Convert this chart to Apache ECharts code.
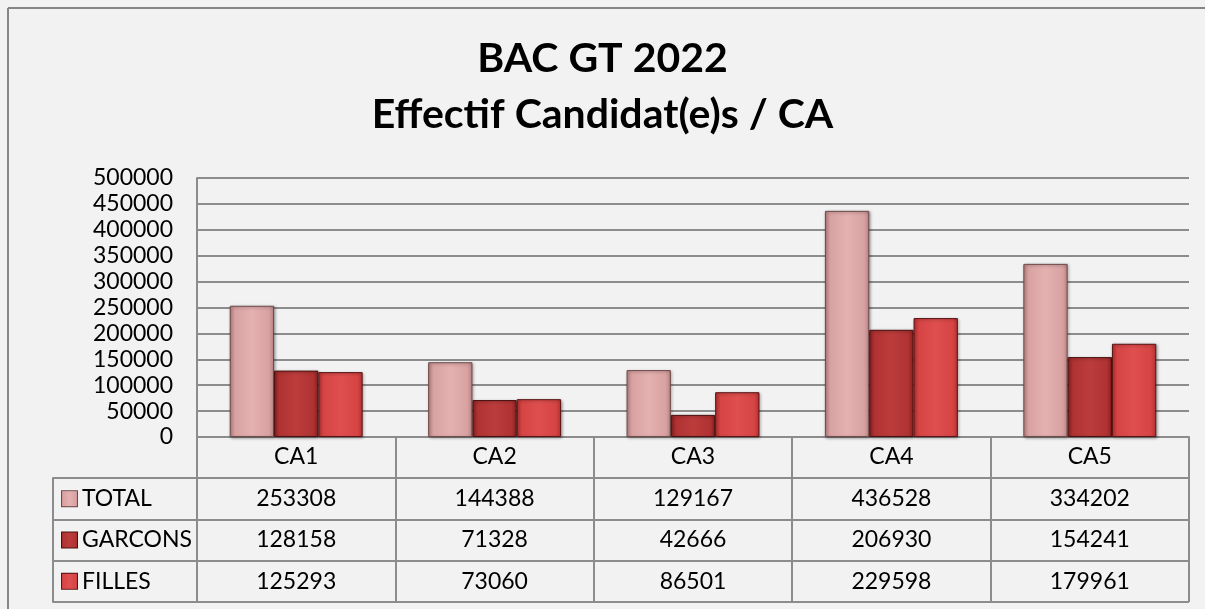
<!DOCTYPE html>
<html>
<head>
<meta charset="utf-8">
<script src="https://cdn.jsdelivr.net/npm/echarts@6/dist/echarts.min.js"></script>
<style>
html,body{margin:0;padding:0;background:#f2f2f2;overflow:hidden;}
#c{width:1205px;height:609px;}
</style>
</head>
<body>
<div id="c"></div>
<script>
const categories = ['CA1', 'CA2', 'CA3', 'CA4', 'CA5'];
const seriesNames = ['TOTAL', 'GARCONS', 'FILLES'];
const total = [253308, 144388, 129167, 436528, 334202];
const garcons = [128158, 71328, 42666, 206930, 154241];
const filles = [125293, 73060, 86501, 229598, 179961];
const yTicks = [0, 50000, 100000, 150000, 200000, 250000, 300000, 350000, 400000, 450000, 500000];

const values = [total, garcons, filles];
const FONT = 'Lato, "Open Sans", sans-serif';
const GRID = '#8c8c8c';
const FS = 23;

const palettes = [
  {edge: '#bd8585', mid: '#d9a2a2', light: '#e4b0b0', border: '#6e4a4a'},
  {edge: '#8c2222', mid: '#b03232', light: '#bc3c3c', border: '#4a1010'},
  {edge: '#b83232', mid: '#d64444', light: '#df4f4f', border: '#5a1414'}
];
function grad(p) {
  return new echarts.graphic.LinearGradient(0, 0, 1, 0, [
    {offset: 0, color: p.edge},
    {offset: 0.12, color: p.mid},
    {offset: 0.5, color: p.light},
    {offset: 0.88, color: p.mid},
    {offset: 1, color: p.edge}
  ]);
}

const barSeries = seriesNames.map((name, i) => ({
  name: name,
  type: 'bar',
  xAxisIndex: 0,
  yAxisIndex: 0,
  data: values[i],
  barGap: '0%',
  barCategoryGap: '33%',
  itemStyle: {
    color: grad(palettes[i]),
    borderColor: palettes[i].border,
    borderWidth: 1,
    shadowColor: 'rgba(0,0,0,0.35)',
    shadowBlur: 3,
    shadowOffsetX: 1,
    shadowOffsetY: 1
  }
}));

const tableData = [];
seriesNames.forEach((name, r) => {
  categories.forEach((c, ci) => {
    tableData.push([ci, r, values[r][ci]]);
  });
});

const richIcons = {};
seriesNames.forEach((n, i) => {
  richIcons['i' + i] = {
    width: 15, height: 15,
    backgroundColor: grad(palettes[i]),
    borderColor: palettes[i].border, borderWidth: 1
  };
});
richIcons.t = {fontSize: FS, fontFamily: FONT, color: '#000', padding: [0, 0, 0, 5]};

const chart = echarts.init(document.getElementById('c'));
chart.setOption({
  backgroundColor: '#f2f2f2',
  animation: false,
  title: {
    text: 'BAC GT 2022\nEffectif Candidat(e)s / CA',
    left: 'center',
    top: 26,
    textStyle: {fontSize: 41, fontWeight: 'bold', fontFamily: FONT, color: '#000', lineHeight: 56}
  },
  graphic: [
    {
      type: 'line', silent: true,
      shape: {x1: 8, y1: 8, x2: 1205, y2: 8},
      style: {stroke: '#868686', lineWidth: 2}
    },
    {
      type: 'line', silent: true,
      shape: {x1: 8, y1: 8, x2: 8, y2: 609},
      style: {stroke: '#868686', lineWidth: 2}
    }
  ],
  grid: [
    {left: 197, right: 16, top: 178, height: 259},
    {left: 197, right: 16, top: 478, height: 124}
  ],
  xAxis: [
    {
      type: 'category', gridIndex: 0, data: categories,
      axisLine: {show: true, lineStyle: {color: GRID, width: 2}},
      axisTick: {show: true, length: 41, lineStyle: {color: GRID, width: 2}},
      axisLabel: {fontSize: FS, fontFamily: FONT, color: '#000', margin: 8}
    },
    {
      type: 'category', gridIndex: 1, data: categories, position: 'top',
      axisLine: {show: true, lineStyle: {color: GRID, width: 2}},
      axisTick: {show: false},
      axisLabel: {show: false},
      splitLine: {show: true, lineStyle: {color: GRID, width: 2}}
    }
  ],
  yAxis: [
    {
      type: 'value', gridIndex: 0, min: 0, max: 500000, interval: 50000,
      axisLine: {show: true, lineStyle: {color: GRID, width: 2}},
      axisTick: {show: false},
      splitLine: {show: true, lineStyle: {color: GRID, width: 2}},
      axisLabel: {
        fontSize: FS, fontFamily: FONT, color: '#000', margin: 24,
        formatter: v => (yTicks.indexOf(v) >= 0 ? String(v) : '')
      }
    },
    {
      type: 'category', gridIndex: 1, data: seriesNames, inverse: true,
      axisLine: {show: true, lineStyle: {color: GRID, width: 2}},
      axisTick: {show: true, length: 144, lineStyle: {color: GRID, width: 2}},
      splitLine: {show: true, lineStyle: {color: GRID, width: 2}},
      axisLabel: {
        align: 'left', margin: 135,
        formatter: (v, idx) => '{i' + idx + '|}{t|' + v + '}',
        rich: richIcons
      }
    },
    {
      type: 'category', gridIndex: 1, data: seriesNames, inverse: true,
      position: 'left', offset: 144,
      axisLine: {show: true, lineStyle: {color: GRID, width: 2}},
      axisTick: {show: false}, axisLabel: {show: false}, splitLine: {show: false}
    }
  ],
  series: barSeries.concat([{
    type: 'custom',
    xAxisIndex: 1, yAxisIndex: 1,
    dimensions: ['x', 'y', 'v'],
    encode: {x: 0, y: 1},
    data: tableData,
    renderItem: function (params, api) {
      const p = api.coord([api.value(0), api.value(1)]);
      return {
        type: 'text',
        x: p[0], y: p[1],
        style: {
          text: String(api.value(2)),
          align: 'center', verticalAlign: 'middle',
          fontSize: FS, fontFamily: FONT, fill: '#000'
        }
      };
    }
  }])
});
</script>
</body>
</html>
